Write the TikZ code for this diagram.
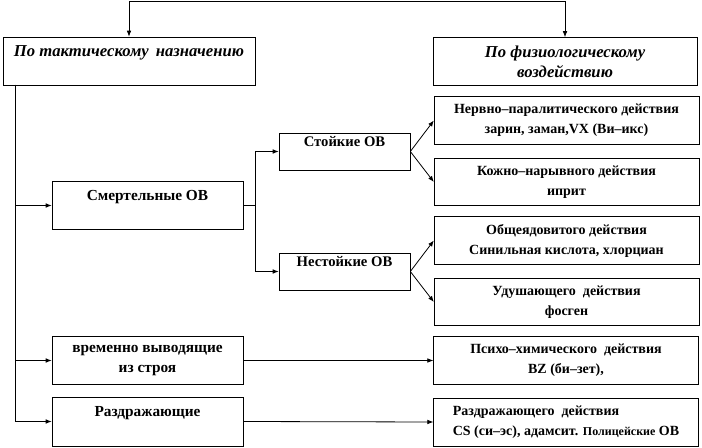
\documentclass[tikz,border=0pt]{standalone}
\usepackage{fontspec}
\setmainfont{Liberation Serif}[BoldFont={Liberation Serif Bold}, ItalicFont={Liberation Serif Italic}, BoldItalicFont={Liberation Serif Bold Italic}]
\usepackage{tikz}
\usetikzlibrary{arrows.meta, positioning, calc}
\newcommand{\boxfont}{\fontsize{10.5}{15}\selectfont\bfseries}
\newcommand{\catfont}{\fontsize{11.5}{15}\selectfont\bfseries}
\newcommand{\titlefont}{\fontsize{12.5}{15}\selectfont\bfseries\itshape}
\tikzset{
  box/.style={draw, line width=0.5pt, inner sep=0pt, align=center, font=\boxfont},
  titlebox/.style={box, font=\titlefont, minimum height=36pt},
  kindbox/.style={box, minimum width=198.5pt, minimum height=35.5pt},
  catbox/.style={box, font=\catfont, minimum width=143.25pt, minimum height=35.5pt},
  subbox/.style={box, font=\fontsize{11}{15}\selectfont\bfseries, minimum width=98.25pt, minimum height=27.75pt},
  arr/.style={line width=0.6pt, -{Latex[length=4.5pt,width=3.5pt]}},
  link/.style={line width=0.6pt}
}

\begin{document}
\begin{tikzpicture}[x=0.75pt, y=-0.75pt]
  \useasboundingbox (0,0) rectangle (702,448);

  % top boxes
  \node[titlebox, minimum width=189pt] (tact) at (129,61) {По тактическому\, назначению\\\mbox{}};
  \node[titlebox, minimum width=198pt] (phys) at (565,61.5) {По физиологическому\\воздействию};
  \coordinate (top) at (345,1);
  \draw[arr] (top) -| (tact.north);
  \draw[arr] (top) -| (phys.north);

  % left column
  \node[catbox] (lethal) at (147.5,205.5) {Смертельные ОВ\\\mbox{}};
  \node[catbox] (temp) at (147.5,360.5) {временно выводящие\\из строя};
  \node[catbox, minimum height=36.75pt] (irr) at (147.5,421.5) {Раздражающие\\\mbox{}};
  \coordinate (spine) at (15,85);
  \draw[arr] (spine) |- (lethal.west);
  \draw[arr] (spine) |- (temp.west);
  \draw[arr] (spine) |- (irr.west);

  % stable / unstable
  \node[subbox] (stab) at (344.5,151.5) {Стойкие ОВ\\\mbox{}};
  \node[subbox] (unst) at (344.5,271.5) {Нестойкие ОВ\\\mbox{}};
  \draw[link] (lethal.east) -- ++(12,0) coordinate (fork);
  \draw[arr] (fork) |- (stab.west);
  \draw[arr] (fork) |- (unst.west);

  % kinds by action
  \node[kindbox] (nerve) at (566.5,120.5) {Нервно–паралитического действия\\зарин, заман,VX (Ви–икс)};
  \node[kindbox] (skin) at (566.5,182) {Кожно–нарывного действия\\иприт};
  \node[kindbox] (gen) at (566.5,240.5) {Общеядовитого действия\\Синильная кислота, хлорциан};
  \node[kindbox] (chok) at (566.5,302) {Удушающего~ действия\\фосген};
  \node[kindbox] (psy) at (566,360.5) {Психо–химического~ действия\\BZ (би–зет),};
  \node[kindbox, minimum height=36pt, align=left] (irrk) at (566,422)
    {Раздражающего~ действия\\CS (си–эс), адамсит. {\fontsize{9}{15}\selectfont Полицейские} ОВ};

  \draw[arr] (stab.east) -- (nerve.west);
  \draw[arr] (stab.east) -- (skin.west);
  \draw[arr] (unst.east) -- (gen.west);
  \draw[arr] (unst.east) -- (chok.west);
  \draw[arr] (temp.east) -- (psy.west);
  \draw[arr] (irr.east) -- (irrk.west);
\end{tikzpicture}
\end{document}
